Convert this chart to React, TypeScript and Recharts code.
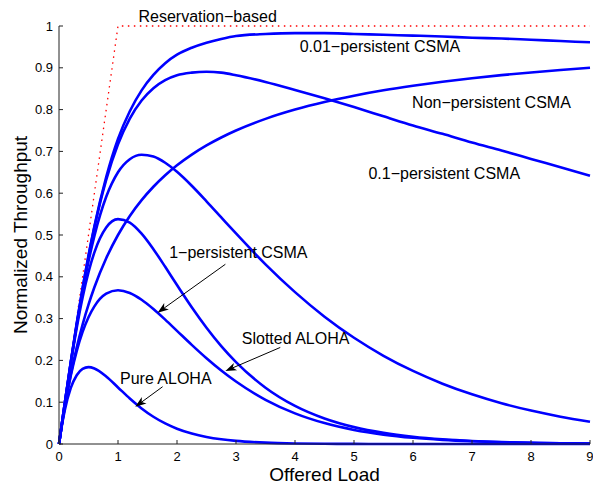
import React from 'react';
import { LineChart, Line, XAxis, YAxis, ReferenceDot, ReferenceLine } from 'recharts';

// offered load G
const offeredLoad = [0, 0.05, 0.1, 0.2, 0.3, 0.4, 0.5, 0.6, 0.8, 1, 1.2, 1.4, 1.6, 1.8, 2, 2.25, 2.5, 2.75, 3, 3.5, 4, 4.5, 5, 5.5, 6, 6.5, 7, 7.5, 8, 8.5, 9];

const pureAloha = [0, 0.0452, 0.0819, 0.1341, 0.1646, 0.1797, 0.1839, 0.1807, 0.1615, 0.1353, 0.1089, 0.0851, 0.0652, 0.0492, 0.0366, 0.025, 0.0168, 0.0112, 0.0074, 0.0032, 0.0013, 0.0006, 0.0002, 0.0001, 0, 0, 0, 0, 0, 0, 0];
const slottedAloha = [0, 0.0476, 0.0905, 0.1637, 0.2222, 0.2681, 0.3033, 0.3293, 0.3595, 0.3679, 0.3614, 0.3452, 0.323, 0.2975, 0.2707, 0.2372, 0.2052, 0.1758, 0.1494, 0.1057, 0.0733, 0.05, 0.0337, 0.0225, 0.0149, 0.0098, 0.0064, 0.0041, 0.0027, 0.0017, 0.0011];
const onePersistent = [0, 0.0499, 0.0991, 0.1929, 0.2776, 0.3507, 0.4111, 0.4586, 0.5179, 0.5379, 0.5297, 0.5032, 0.4661, 0.4239, 0.3803, 0.3272, 0.2782, 0.2342, 0.196, 0.1347, 0.0911, 0.061, 0.0404, 0.0266, 0.0174, 0.0113, 0.0073, 0.0047, 0.003, 0.0019, 0.0012];
const halfPersistent = [0, 0.0499, 0.0994, 0.1951, 0.2844, 0.3653, 0.4367, 0.4979, 0.5914, 0.6502, 0.6814, 0.692, 0.6876, 0.6728, 0.6511, 0.6178, 0.5806, 0.5421, 0.5037, 0.4298, 0.3633, 0.3046, 0.2541, 0.2111, 0.1748, 0.1443, 0.1188, 0.0975, 0.0799, 0.0654, 0.0534];
const tenthPersistent = [0, 0.05, 0.0995, 0.1961, 0.2876, 0.3723, 0.4494, 0.5182, 0.632, 0.7171, 0.7786, 0.8219, 0.8513, 0.8705, 0.8822, 0.8884, 0.8905, 0.8884, 0.8822, 0.866, 0.8469, 0.827, 0.806, 0.784, 0.762, 0.742, 0.721, 0.702, 0.682, 0.662, 0.642];
const hundredthPersistent = [0, 0.05, 0.0995, 0.1962, 0.288, 0.3733, 0.451, 0.521, 0.6385, 0.7297, 0.796, 0.846, 0.883, 0.911, 0.9313, 0.948, 0.96, 0.969, 0.976, 0.981, 0.983, 0.983, 0.981, 0.979, 0.977, 0.975, 0.972, 0.97, 0.967, 0.964, 0.961];
const nonPersistent = [0, 0.0476, 0.0909, 0.1667, 0.2308, 0.2857, 0.3333, 0.375, 0.4444, 0.5, 0.5455, 0.5833, 0.6154, 0.6429, 0.6667, 0.6923, 0.7143, 0.7333, 0.75, 0.7778, 0.8, 0.8182, 0.8333, 0.8462, 0.8571, 0.8667, 0.875, 0.8824, 0.8889, 0.8947, 0.9];
const reservation = [0, 0.05, 0.1, 0.2, 0.3, 0.4, 0.5, 0.6, 0.8, 1, 1, 1, 1, 1, 1, 1, 1, 1, 1, 1, 1, 1, 1, 1, 1, 1, 1, 1, 1, 1, 1];

const xTicks = [0, 1, 2, 3, 4, 5, 6, 7, 8, 9];
const yTicks = [0, 0.1, 0.2, 0.3, 0.4, 0.5, 0.6, 0.7, 0.8, 0.9, 1];

const curveKeys = ['pure', 'slotted', 'p1', 'p05', 'p01', 'p001', 'nonp'];

const notes = [
  { text: 'Reservation−based', x: 2.52, y: 1.01 },
  { text: '0.01−persistent CSMA', x: 5.44, y: 0.937 },
  { text: 'Non−persistent CSMA', x: 7.33, y: 0.803 },
  { text: '0.1−persistent CSMA', x: 6.53, y: 0.634 },
  { text: '1−persistent CSMA', x: 3.04, y: 0.444 },
  { text: 'Slotted ALOHA', x: 4.01, y: 0.239 },
  { text: 'Pure ALOHA', x: 1.81, y: 0.1435 },
];

const arrows = [
  { x1: 2.82, y1: 0.43, x2: 1.671, y2: 0.314 },
  { x1: 3.75, y1: 0.231, x2: 2.82, y2: 0.1746 },
  { x1: 1.756, y1: 0.137, x2: 1.293, y2: 0.0892 },
];

const FONT = '"Liberation Sans", Arial, Helvetica, sans-serif';

const rows = offeredLoad.map((x, i) => ({
  x,
  pure: pureAloha[i],
  slotted: slottedAloha[i],
  p1: onePersistent[i],
  p05: halfPersistent[i],
  p01: tenthPersistent[i],
  p001: hundredthPersistent[i],
  nonp: nonPersistent[i],
  resv: reservation[i],
}));

function AxisTitle({ viewBox, kind }: any) {
  if (!viewBox) return null;
  if (kind === 'x') {
    return (
      <text x={viewBox.x + viewBox.width / 2} y={viewBox.y + 36.7} textAnchor="middle"
        fontFamily={FONT} fontSize={19} fill="#000">Offered Load</text>
    );
  }
  const cx = 26.5;
  const cy = viewBox.y + viewBox.height / 2;
  return (
    <text x={cx} y={cy} textAnchor="middle" transform={`rotate(-90, ${cx}, ${cy})`}
      fontFamily={FONT} fontSize={19} fill="#000">Normalized Throughput</text>
  );
}

function arrowShape(p: any) {
  const { x1, y1, x2, y2 } = p;
  const dx = x2 - x1, dy = y2 - y1;
  const len = Math.sqrt(dx * dx + dy * dy) || 1;
  const ux = dx / len, uy = dy / len;
  const nx = -uy, ny = ux;
  const L = 11, W = 4, N = 8;
  const bx = x2 - ux * L, by = y2 - uy * L;
  const pts = [
    [x2, y2],
    [bx + nx * W, by + ny * W],
    [x2 - ux * N, y2 - uy * N],
    [bx - nx * W, by - ny * W],
  ].map(q => q.join(',')).join(' ');
  return (
    <g>
      <line x1={x1} y1={y1} x2={x2 - ux * N} y2={y2 - uy * N} stroke="#000" strokeWidth={1} />
      <polygon points={pts} fill="#000" />
    </g>
  );
}

export default function App() {
  return (
    <div style={{ position: 'absolute', left: 0, top: 0, background: '#fff' }}>
      <LineChart width={593} height={485} data={rows} margin={{ top: 26, right: 3, bottom: 0, left: 0 }}>
        <XAxis
          dataKey="x"
          type="number"
          domain={[0, 9]}
          ticks={xTicks}
          height={41}
          tickSize={-4}
          tickMargin={12}
          axisLine={{ stroke: '#222', strokeWidth: 1 }}
          tickLine={{ stroke: '#222' }}
          tick={{ fill: '#000', fontSize: 13, fontFamily: FONT }}
          label={<AxisTitle kind="x" />}
        />
        <YAxis
          type="number"
          domain={[0, 1]}
          ticks={yTicks}
          width={59}
          tickSize={-4}
          tickMargin={10}
          axisLine={{ stroke: '#222', strokeWidth: 1 }}
          tickLine={{ stroke: '#222' }}
          tick={{ fill: '#000', fontSize: 13, fontFamily: FONT }}
          label={<AxisTitle kind="y" />}
        />
        <Line type="linear" dataKey="resv" stroke="#ff0000" strokeWidth={1.3} strokeDasharray="1.5 4.5"
          dot={false} activeDot={false} isAnimationActive={false} />
        {curveKeys.map(k => (
          <Line key={k} type="monotone" dataKey={k} stroke="#0000ff" strokeWidth={2.6}
            dot={false} activeDot={false} isAnimationActive={false} />
        ))}
        {arrows.map((a, i) => (
          <ReferenceLine key={'a' + i} segment={[{ x: a.x1, y: a.y1 }, { x: a.x2, y: a.y2 }]}
            ifOverflow="visible" shape={arrowShape} />
        ))}
        {notes.map((n, i) => (
          <ReferenceDot key={'n' + i} x={n.x} y={n.y} r={0} ifOverflow="visible"
            shape={(p: any) => (
              <text x={p.cx} y={p.cy} textAnchor="middle" fontFamily={FONT} fontSize={16} fill="#000">{n.text}</text>
            )} />
        ))}
      </LineChart>
    </div>
  );
}
